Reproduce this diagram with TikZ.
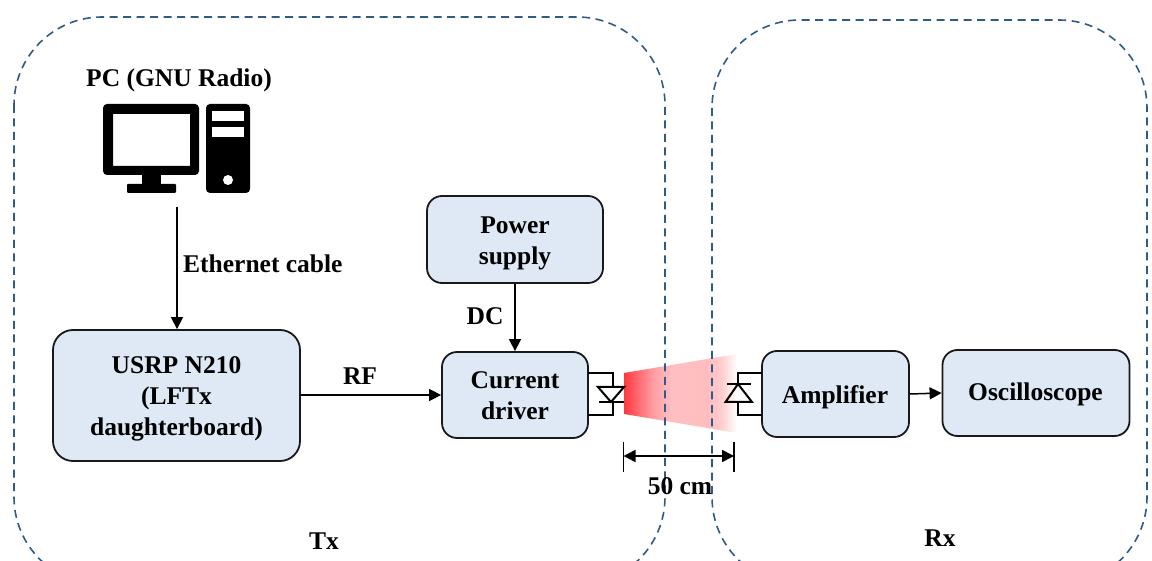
\documentclass[tikz,border=0pt]{standalone}
\usepackage{fontspec}
\setmainfont{Liberation Serif}
\usetikzlibrary{arrows.meta}
\definecolor{boxfill}{HTML}{DEE9F5}
\definecolor{zone}{HTML}{2F5B85}
\pgfdeclarehorizontalshading{beamshade}{100bp}{
 rgb(0bp)=(1,0.22,0.25);
 rgb(25bp)=(1,0.22,0.25);
 rgb(38bp)=(1,0.62,0.64);
 rgb(46bp)=(1,0.75,0.76);
 rgb(62bp)=(1,0.74,0.75);
 rgb(68bp)=(1,0.80,0.81);
 rgb(75bp)=(1,1,1);
 rgb(100bp)=(1,1,1)}
\tikzset{
 txt/.style={font=\fontsize{25.5}{31}\selectfont\bfseries,align=center,text=black,inner sep=0pt},
 blockbox/.style={draw=black!90,line width=1.8pt,fill=boxfill,rounded corners=15pt,inner sep=0pt},
 link/.style={draw=black,line width=1.5pt,-{Stealth[length=12pt,width=12pt,inset=0pt]}},
 wire/.style={draw=black,line width=2pt},
 zonebox/.style={draw=zone,line width=1.6pt,dash pattern=on 8pt off 5.5pt,rounded corners=88pt},
}
\begin{document}
\begin{tikzpicture}[x=1pt,y=-1pt]
\useasboundingbox (0,0) rectangle (1152,561);
% beam
\shade[shading=beamshade] (624,373) -- (737,354) -- (737,433) -- (624,414) -- cycle;
% zones
\begin{scope}
\clip (0,0) rectangle (1152,561);
\draw[zonebox] (14,17) rectangle (665,585);
\draw[zonebox] (712,20) rectangle (1147,585);
\end{scope}
% PC icon
\fill[black,rounded corners=4pt,even odd rule] (103,104) rectangle (199,175) (113,114) [sharp corners] rectangle (190,166);
\fill[black] (142,174) rectangle (161,185);
\fill[black,rounded corners=1pt] (127,184) rectangle (176,193);
\fill[black,rounded corners=4pt] (206,104) rectangle (250,193);
\fill[white] (212,111) rectangle (244,121);
\fill[white] (212,127) rectangle (244,137);
\fill[white] (228,180) circle (5);
% boxes
\node[txt] (pclabel) at (179,80) {PC (GNU Radio)};
\coordinate (pc) at (177,207);
\node[blockbox,minimum width=247pt,minimum height=131pt,rounded corners=20pt] (usrp) at (176.5,395.5) {};
\node[txt] (usrptext) at (176.5,398.5) {USRP N210\\(LFTx\\daughterboard)};
\node[blockbox,minimum width=176pt,minimum height=87pt] (power) at (515,239.5) {};
\node[txt] (powertext) at (515,243) {Power\\supply};
\node[blockbox,minimum width=146pt,minimum height=86pt] (driver) at (515,395) {};
\node[txt] (drivertext) at (515,396) {Current\\driver};
\node[blockbox,minimum width=147pt,minimum height=86pt] (amp) at (835.5,394) {};
\node[txt] (amptext) at (835,397) {Amplifier};
\node[blockbox,minimum width=187pt,minimum height=86pt] (osc) at (1036,393) {};
\node[txt] (osctext) at (1035.5,394.5) {Oscilloscope};
% connectors
\draw[link] (pc) -- (usrp.north -| pc);
\draw[link] (usrp.east |- driver) -- (driver.west);
\draw[link] (power) -- (driver);
\draw[link] (amp.east) -- (osc.west);
% labels
\node[txt,anchor=west] (eth) at (183,264) {Ethernet cable};
\node[txt] (rf) at (360,376) {RF};
\node[txt] (dc) at (485,316) {DC};
\node[txt] (tx) at (324,541) {Tx};
\node[txt] (rx) at (940,538) {Rx};
% laser diode
\coordinate (txa) at (588,373);
\coordinate (txb) at (588,415);
\draw[wire] (txa) -- (613,373) -- (613,387);
\draw[wire,line join=miter] (598,387) -- (624,387) -- (611,402) -- cycle;
\draw[wire] (599,402) -- (624,402);
\draw[wire] (613,402) -- (613,415) -- (txb);
% photodiode
\coordinate (rxa) at (762,373);
\coordinate (rxb) at (762,415);
\draw[wire] (rxa) -- (738,373) -- (738,384);
\draw[wire] (727,384) -- (751,384);
\draw[wire,line join=miter] (738,384) -- (725.5,402) -- (752,402) -- cycle;
\draw[wire] (738,402) -- (738,415) -- (rxb);
% dimension
\coordinate (d1) at (623.5,456);
\coordinate (d2) at (734,456);
\draw[draw=black,line width=1.1pt] (623.5,442) -- (623.5,472);
\draw[draw=black,line width=1.1pt] (734,442) -- (734,472);
\draw[draw=black,line width=1.5pt,{Stealth[length=12pt,width=12pt,inset=0pt]}-{Stealth[length=12pt,width=12pt,inset=0pt]}] (d1) -- (d2);
\node[txt] (dim) at (680,486) {50 cm};
\end{tikzpicture}
\end{document}
